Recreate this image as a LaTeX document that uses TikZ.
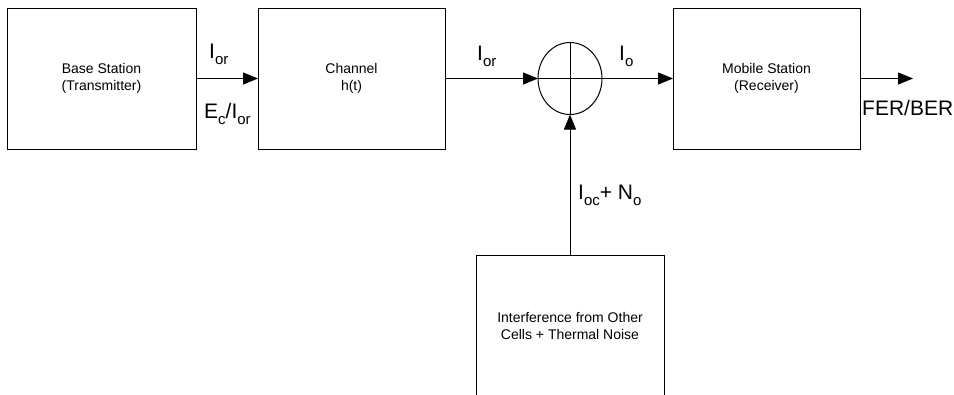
\documentclass[tikz,border=0pt]{standalone}
\usepackage{fontspec}
\setmainfont{Liberation Sans}
\usetikzlibrary{arrows.meta,shapes.geometric}
\newcommand\lsub[1]{\raisebox{-6pt}{\fontsize{15}{15}\selectfont #1}}
\begin{document}
\begin{tikzpicture}[x=1pt,y=-1pt,
  blk/.style={draw,line width=1pt,inner sep=0pt,outer sep=0pt,align=center,
    font=\fontsize{14}{17}\selectfont},
  lbl/.style={anchor=base west,inner sep=0pt,font=\fontsize{21}{21}\selectfont},
  conn/.style={line width=1pt,-{Triangle[length=15pt,width=12pt]}}]
\useasboundingbox (0,0) rectangle (954,394);
\node[blk,minimum width=189pt,minimum height=141pt] (bs) at (101.5,78.5) {Base Station\\(Transmitter)};
\node[blk,minimum width=187pt,minimum height=141pt] (ch) at (351.5,78.5) {Channel\\h(t)};
\node[blk,minimum width=187pt,minimum height=141pt] (ms) at (766.5,78.5) {Mobile Station\\(Receiver)};
\node[blk,minimum width=188pt,minimum height=142pt] (itf) at (570,326) {Interference from Other\\Cells + Thermal Noise};
\node[ellipse,draw,line width=1pt,inner sep=0pt,outer sep=0pt,minimum width=64pt,minimum height=72pt] (sum) at (570,78.5) {};
\draw[line width=1pt] (sum.west) -- (sum.east);
\draw[line width=1pt] (sum.north) -- (sum.south);
\coordinate (out) at (913,78.5);
\draw[conn] (bs) -- (ch);
\draw[conn] (ch) -- (sum);
\draw[conn] (sum) -- (ms);
\draw[conn] (ms) -- (out);
\draw[conn] (itf.north) -- (sum.south);
\node[lbl] (l1) at (209,58) {I\lsub{or}};
\node[lbl] (l2) at (204,118) {E\lsub{c}/I\lsub{or}};
\node[lbl] (l3) at (477,60) {I\lsub{or}};
\node[lbl] (l4) at (619,60) {I\lsub{o}};
\node[lbl] (l5) at (862,115) {FER/BER};
\node[lbl] (l6) at (578,199) {I\lsub{oc}+ N\lsub{o}};
\end{tikzpicture}
\end{document}
